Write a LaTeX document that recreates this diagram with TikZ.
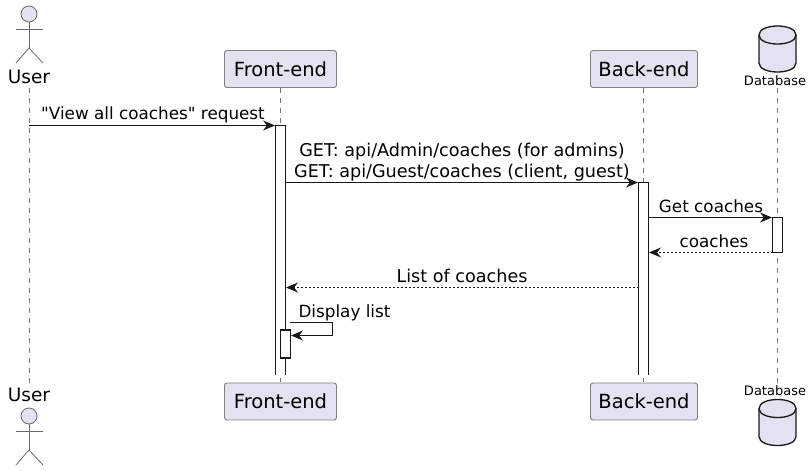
\documentclass[tikz,border=0pt]{standalone}
\usepackage{fontspec}
\usepackage{tkz-euclide}
\setmainfont{DejaVu Sans}[Ligatures=TeXOff]
\usetikzlibrary{arrows.meta}
\definecolor{partfill}{HTML}{E2E2F0}
\definecolor{ink}{HTML}{181818}
\tikzset{
  part/.style={draw=ink!55,line width=.9pt,fill=partfill,rounded corners=2.5pt,minimum height=37pt,inner sep=0pt,font=\fontsize{19.5}{22}\selectfont},
  actorlabel/.style={font=\fontsize{18.5}{22}\selectfont,inner sep=0pt},
  dblabel/.style={font=\fontsize{13}{16}\selectfont,inner sep=0pt},
  msg/.style={anchor=base,inner sep=0pt,font=\fontsize{16.8}{21}\selectfont,align=center},
  msgwide/.style={msg,font=\fontsize{17.6}{21}\selectfont},
  life/.style={draw=ink!60,line width=.8pt,dash pattern=on 5pt off 5pt},
  call/.style={draw=ink,line width=1.1pt,-{Stealth[length=12pt,width=10pt,inset=4pt]}},
  reply/.style={draw=ink,line width=.8pt,dash pattern=on 2pt off 2pt,-{Stealth[length=12pt,width=10pt,inset=4pt]}},
  active/.style={draw=ink,line width=1.1pt,fill=white},
  stick/.style={draw=ink!65,line width=.8pt}
}
\begin{document}
\begin{tikzpicture}[x=1pt,y=-1pt]
\useasboundingbox (0,0) rectangle (812,471);
% lifeline ends
\tkzDefPoint(29,88){userT}\tkzDefPoint(29,384){userB}
\tkzDefPoint(280.5,88){frontT}\tkzDefPoint(280.5,382){frontB}
\tkzDefPoint(643.5,88){backT}\tkzDefPoint(643.5,382){backB}
\tkzDefPoint(777,88){dbT}\tkzDefPoint(777,384){dbB}
\draw[life] (userT) -- (userB);
\draw[life] (frontT) -- (frontB);
\draw[life] (backT) -- (backB);
\draw[life] (dbT) -- (dbB);
% participants
\foreach \py/\pn in {69/T,401.5/B}{
  \node[part,minimum width=112pt] (front\pn box) at (280.5,\py) {Front-end};
  \node[part,minimum width=107pt] (back\pn box) at (644,\py) {Back-end};
}
% actors
\foreach \ay/\an/\ly in {0/T/77,402/B/395}{
  \node[stick,circle,fill=partfill,minimum size=16pt,inner sep=0pt] (head\an) at (29,14+\ay) {};
  \coordinate (hip\an) at (29,48+\ay);
  \draw[stick] (head\an) -- (hip\an);
  \draw[stick] (16,29+\ay) -- (43,29+\ay);
  \draw[stick] (16,63+\ay) -- (hip\an) -- (43,63+\ay);
  \node[actorlabel] (user\an) at (29,\ly) {User};
}
% databases
\foreach \dy/\dn/\ly in {26/T/81,399.5/B/391}{
  \path[draw=ink,line width=1.3pt,fill=partfill] (759,\dy+9)
    .. controls (759,\dy-3) and (796,\dy-3) .. (796,\dy+9)
    -- (796,\dy+37) .. controls (796,\dy+49) and (759,\dy+49) .. (759,\dy+37) -- cycle;
  \path[draw=ink,line width=1.3pt] (759,\dy+9)
    .. controls (759,\dy+21) and (796,\dy+21) .. (796,\dy+9);
  \node[dblabel] (db\dn) at (775,\ly) {Database};
}
% activations
\draw[active] (275.5,375) -- (275.5,125.5) -- (285.5,125.5) -- (285.5,375);
\draw[active] (638.5,375) -- (638.5,182.5) -- (648.5,182.5) -- (648.5,375);
\node[active,minimum width=10pt,minimum height=35pt,inner sep=0pt] (dbact) at (777.5,235) {};
\node[active,minimum width=10pt,minimum height=28pt,inner sep=0pt] (selfact) at (285.5,344) {};
% message ends
\tkzDefPoint(29,125.5){reqA}\tkzDefPoint(275,125.5){reqB}
\tkzDefPoint(285.5,182.5){getA}\tkzDefPoint(638,182.5){getB}
\tkzDefPoint(648.5,217.5){dbA}\tkzDefPoint(772,217.5){dbC}
\tkzDefPoint(772.5,252.5){retA}\tkzDefPoint(649,252.5){retB}
\tkzDefPoint(638.5,287.5){listA}\tkzDefPoint(286,287.5){listB}
\tkzDefPoint(290,322.5){selfA}\tkzDefPoint(332.5,322.5){selfB}
\tkzDefPoint(332.5,335.5){selfC}\tkzDefPoint(291,335.5){selfD}
\draw[call] (reqA) -- (reqB);
\draw[call] (getA) -- (getB);
\draw[call] (dbA) -- (dbC);
\draw[reply] (retA) -- (retB);
\draw[reply] (listA) -- (listB);
\draw[call] (selfA) -- (selfB) -- (selfC) -- (selfD);
% labels
\node[msg] (reqtxt) at (153,119) {"View all coaches" request};
\node[msgwide] (gettxt) at (462,177) {GET: api/Admin/coaches (for admins)\\GET: api/Guest/coaches (client, guest)};
\node[msg] (dbtxt) at (711,212) {Get coaches};
\node[msg] (rettxt) at (714,247) {coaches};
\node[msgwide] (listtxt) at (462,282) {List of coaches};
\node[msg] (selftxt) at (344.5,317) {Display list};
\end{tikzpicture}
\end{document}
